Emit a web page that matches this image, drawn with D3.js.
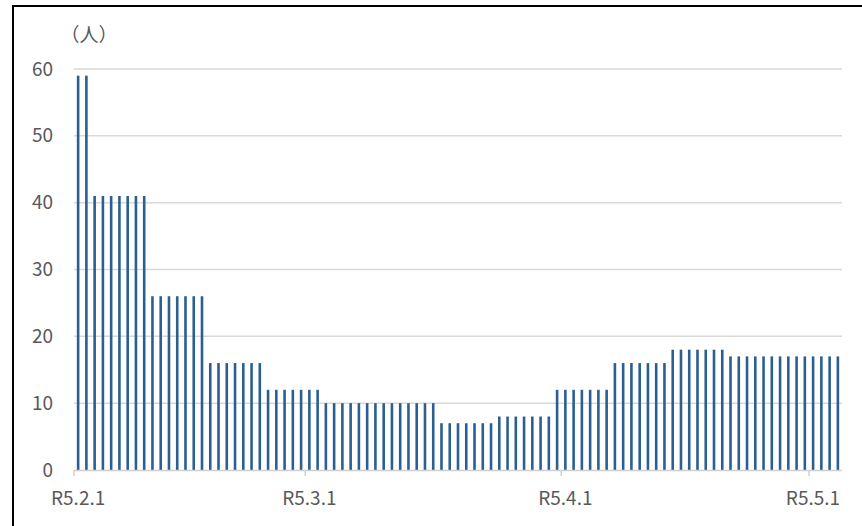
<!DOCTYPE html>
<html>
<head>
<meta charset="utf-8">
<script src="https://cdn.jsdelivr.net/npm/d3@7/dist/d3.min.js"></script>
<style>
  html, body { margin: 0; padding: 0; background: #fff; }
  svg { display: block; }
  text { font-family: "Noto Sans CJK JP", "Noto Sans", sans-serif; fill: #595959; }
</style>
</head>
<body>
<div id="chart"></div>
<script>
// daily counts, R5.2.1 - R5.5.4
const startDay = new Date(2023, 1, 1)
const endDay = new Date(2023, 4, 5)
const days = d3.timeDay.range(startDay, endDay)
const counts = [
  59, 59,
  41, 41, 41, 41, 41, 41, 41,
  26, 26, 26, 26, 26, 26, 26,
  16, 16, 16, 16, 16, 16, 16,
  12, 12, 12, 12, 12, 12, 12,
  10, 10, 10, 10, 10, 10, 10, 10, 10, 10, 10, 10, 10, 10,
  7, 7, 7, 7, 7, 7, 7,
  8, 8, 8, 8, 8, 8, 8,
  12, 12, 12, 12, 12, 12, 12,
  16, 16, 16, 16, 16, 16, 16,
  18, 18, 18, 18, 18, 18, 18,
  17, 17, 17, 17, 17, 17, 17, 17, 17, 17, 17, 17, 17, 17
]
const tickDays = [new Date(2023, 1, 1), new Date(2023, 2, 1), new Date(2023, 3, 1), new Date(2023, 4, 1)]
const tickLabels = ['R5.2.1', 'R5.3.1', 'R5.4.1', 'R5.5.1']
const yTicks = [0, 10, 20, 30, 40, 50, 60]
const unitLabel = '（人）'

const width = 862
const height = 526
const plot = {left: 74, right: 842, top: 69, bottom: 470}

const svg = d3.select('#chart')
  .append('svg')
  .attr('width', width)
  .attr('height', height)

// outer frame (right/bottom edges fall outside the view)
svg.append('rect')
  .attr('x', 13)
  .attr('y', 6)
  .attr('width', 870)
  .attr('height', 540)
  .attr('fill', 'none')
  .attr('stroke', '#000')
  .attr('stroke-width', 2)

const x = d3.scaleBand()
  .domain(days.map((d) => +d))
  .range([plot.left, plot.right])
  .padding(0)

const y = d3.scaleLinear()
  .domain([0, 60])
  .range([plot.bottom, plot.top])

// gridlines
svg.append('g')
  .selectAll('line')
  .data(yTicks.filter((t) => t > 0))
  .enter()
  .append('line')
  .attr('x1', plot.left)
  .attr('x2', plot.right)
  .attr('y1', (d) => y(d))
  .attr('y2', (d) => y(d))
  .attr('stroke', '#d9d9d9')
  .attr('stroke-width', 1.5)

// y labels
const yAxis = d3.axisLeft(y).tickValues(yTicks).tickSize(0).tickPadding(0)
const gy = svg.append('g')
  .attr('transform', `translate(53,0)`)
  .call(yAxis)
gy.select('.domain').remove()
gy.selectAll('text')
  .attr('font-size', 19)
  .attr('fill', '#595959')
  .style('font-family', '"Noto Sans CJK JP", sans-serif')

// bars
const barW = 2.6
svg.append('g')
  .selectAll('rect')
  .data(counts)
  .enter()
  .append('rect')
  .attr('x', (d, i) => x(+days[i]) + x.bandwidth() / 2 - barW / 2)
  .attr('y', (d) => y(d))
  .attr('width', barW)
  .attr('height', (d) => y(0) - y(d))
  .attr('fill', '#2b5f92')

// x axis line + ticks at the start of each month
svg.append('line')
  .attr('x1', plot.left)
  .attr('x2', plot.right)
  .attr('y1', plot.bottom + 0.5)
  .attr('y2', plot.bottom + 0.5)
  .attr('stroke', '#d0d0d0')
  .attr('stroke-width', 1.5)

const gx = svg.append('g')
gx.selectAll('line')
  .data(tickDays)
  .enter()
  .append('line')
  .attr('x1', (d) => x(+d))
  .attr('x2', (d) => x(+d))
  .attr('y1', plot.bottom)
  .attr('y2', plot.bottom + 6)
  .attr('stroke', '#d0d0d0')
  .attr('stroke-width', 1.5)

gx.selectAll('text')
  .data(tickDays)
  .enter()
  .append('text')
  .attr('x', (d, i) => Math.min(x(+d) + x.bandwidth() / 2, 813))
  .attr('y', 505)
  .attr('text-anchor', 'middle')
  .attr('font-size', 19)
  .text((d, i) => tickLabels[i])

svg.append('text')
  .attr('x', 89)
  .attr('y', 42)
  .attr('text-anchor', 'middle')
  .attr('font-size', 19)
  .text(unitLabel)
</script>
</body>
</html>
